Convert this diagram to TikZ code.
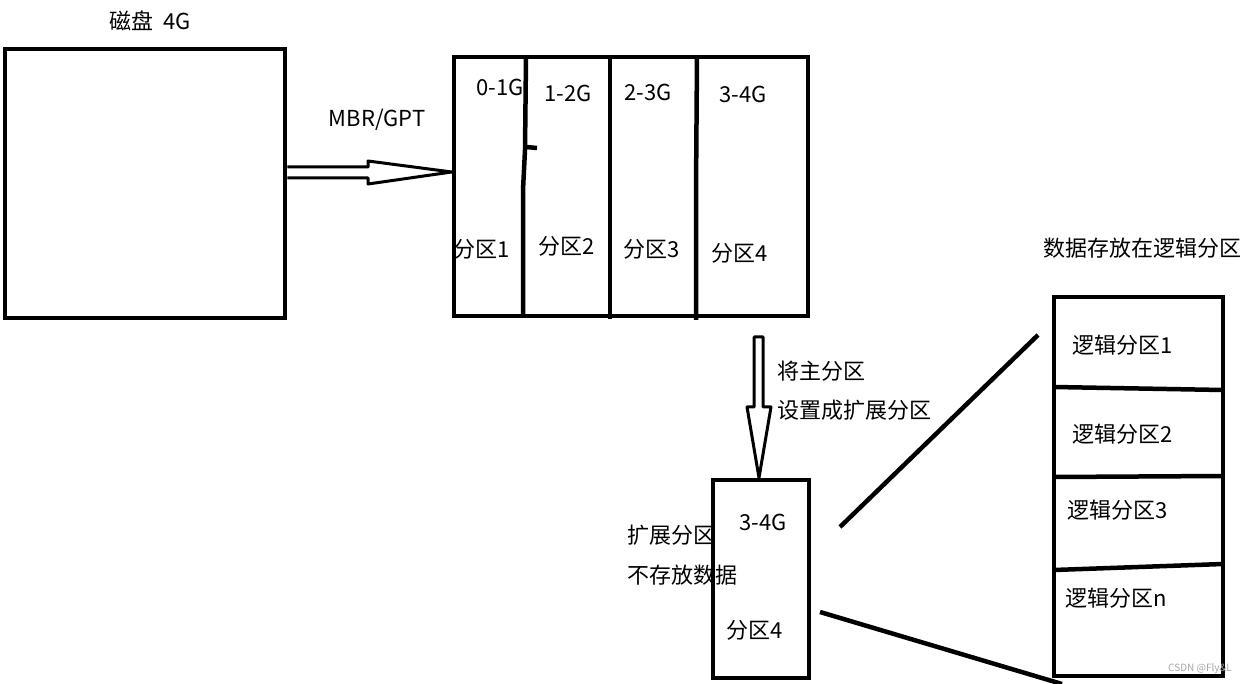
\documentclass[tikz,border=0pt]{standalone}
\usepackage{fontspec}
\setmainfont{Noto Sans CJK SC}
\begin{document}
\begin{tikzpicture}[x=1pt,y=-1pt,
  box/.style={draw, line width=4.5pt, inner sep=0pt},
  sep/.style={line width=4.5pt},
  arr/.style={line width=3pt, line join=round},
  lbl/.style={inner sep=0pt, font=\fontsize{22}{26}\selectfont},
  wm/.style={inner sep=0pt, text=black!35, font=\fontsize{10}{12}\selectfont}]
\useasboundingbox (0,0) rectangle (1248,684);
% boxes
\node[box, minimum width=280pt, minimum height=269pt] (disk) at (145,183.5) {};
\node[box, minimum width=354pt, minimum height=259pt] (part) at (631,186.5) {};
\node[box, minimum width=96pt, minimum height=198pt] (ext) at (761,579) {};
\node[box, minimum width=169pt, minimum height=379pt] (logic) at (1138.5,486.5) {};
% partition dividers
\draw[sep] (526,57) -- (525,150) -- (523,190) -- (523,318);
\draw[sep] (526,147) -- (537,148);
\draw[sep] (610,57) -- (610,319);
\draw[sep] (697,57) -- (696,190) -- (696,320);
% logical dividers
\draw[sep] (1054,387) -- (1223,390);
\draw[sep] (1054,477) -- (1223,476);
\draw[sep] (1054,570) -- (1223,564);
% hollow arrow MBR/GPT
\draw[arr] (disk.east |- 0,167) -- (368,167) -- (368,161) -- (part.west |- 0,172) -- (368,184) -- (368,178) -- (disk.east |- 0,178);
% hollow arrow down
\draw[arr] (754,337) -- (763,337) -- (763,407) -- (771,407) -- (ext.north -| 759,0) -- (747,407) -- (754,407) -- cycle;
% zoom lines
\coordinate (z1) at (1038,335);
\coordinate (z2) at (1062,684);
\draw[line width=4.5pt] (840,527) -- (z1);
\draw[line width=4.5pt] (820,612) -- (z2);
% labels
\node[lbl] (tdisk) at (150,21) {磁盘\ \ 4G};
\node[lbl] (tmbr) at (377,120) {MBR/GPT};
\node[lbl] (t01) at (500,87) {0-1G};
\node[lbl] (t12) at (568,93) {1-2G};
\node[lbl] (t23) at (648,92) {2-3G};
\node[lbl] (t34) at (743,94) {3-4G};
\node[lbl] (p1) at (482,249) {分区1};
\node[lbl] (p2) at (567,246) {分区2};
\node[lbl] (p3) at (652,249) {分区3};
\node[lbl] (p4) at (740,253) {分区4};
\node[lbl, anchor=west] (c1) at (777,371) {将主分区};
\node[lbl, anchor=west] (c2) at (777,410) {设置成扩展分区};
\node[lbl] (e34) at (763,522) {3-4G};
\node[lbl] (e4) at (755,630) {分区4};
\node[lbl, anchor=west] (n1) at (627,535) {扩展分区};
\node[lbl, anchor=west] (n2) at (627,575) {不存放数据};
\node[lbl] (ld) at (1142,248) {数据存放在逻辑分区};
\node[lbl] (l1) at (1123,345) {逻辑分区1};
\node[lbl] (l2) at (1123,434) {逻辑分区2};
\node[lbl] (l3) at (1118,510) {逻辑分区3};
\node[lbl] (ln) at (1116,598) {逻辑分区n};
\node[wm] (w) at (1200,669) {CSDN @Fly\&L};
\end{tikzpicture}
\end{document}
